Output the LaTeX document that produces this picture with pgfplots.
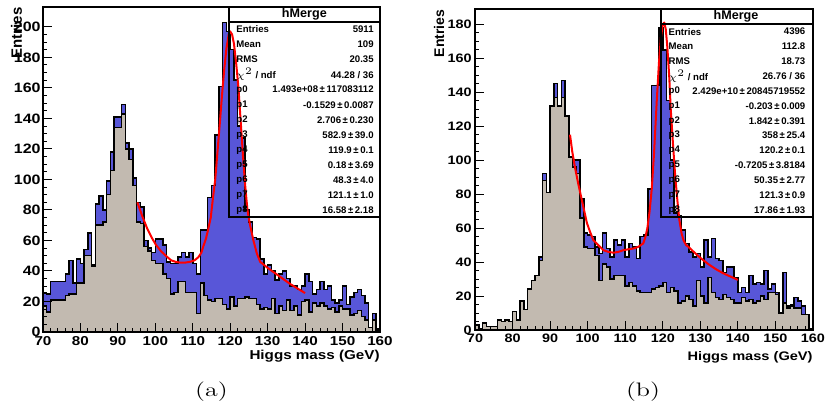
\documentclass[border=0pt]{standalone}
\usepackage{pgfplots}
\pgfplotsset{compat=1.18}
\usepackage{fontspec}
\newfontfamily\hv{Liberation Sans}
\definecolor{hblue}{RGB}{88,86,216}
\definecolor{htan}{RGB}{194,186,176}
\newcommand{\tl}[1]{\scalebox{1}[0.85]{\hv\bfseries #1}}
\newcommand{\sq}[1]{\scalebox{1}[0.85]{#1}}
\newcommand{\PM}{\,±\,}

\pgfplotstableread{
x blue tan
70 26 17
71 25 13
72 33 21
73 33 21
74 33 21
75 33 21
76 38 24
77 47 25
78 32 25
79 48 32
80 45 32
81 54 50
82 65 50
83 44 43
84 84 70
85 89 70
86 80 72
87 99 90
88 118 106
89 141 134
90 141 134
91 149 143
92 124 120
93 120 113
94 101 96
95 85 72
96 82 71
97 60 56
98 55 53
99 52 47
100 61 45
101 61 45
102 57 38
103 46 35
104 45 25
105 45 26
106 49 33
107 52 33
108 49 26
109 52 26
110 45 26
111 38 12
112 67 32
113 67 24
114 88 21
115 96 20
116 129 22
117 161 22
118 203 18
119 197 15
120 185 23
121 165 17
122 135 22
123 127 22
124 80 23
125 72 22
126 62 22
127 61 18
128 48 15
129 38 16
130 44 15
131 40 22
132 34 12
133 38 17
134 40 14
135 35 21
136 30 14
137 30 17
138 28 11
139 30 20
140 38 21
141 33 13
142 25 19
143 28 17
144 33 19
145 28 17
146 30 15
147 21 16
148 19 13
149 21 17
150 30 15
151 18 15
152 23 11
153 26 12
154 28 14
155 24 10
156 19 8
157 3 3
158 12 8
159 2 1
160 2 1
}\dataA

\pgfplotstableread{
x blue tan
70 3 3
71 1 1
72 4 4
73 2 2
74 2 2
75 2 2
76 6 6
77 5 5
78 6 6
79 5 5
80 11 11
81 6 6
82 17 17
83 12 12
84 24 24
85 29 29
86 32 32
87 43 41
88 92 88
89 81 81
90 132 132
91 145 137
92 132 132
93 147 137
94 126 126
95 102 102
96 100 96
97 100 92
98 77 66
99 57 49
100 56 48
101 55 48
102 49 44
103 45 29
104 57 39
105 48 37
106 43 30
107 53 32
108 50 32
109 53 32
110 43 26
111 51 28
112 49 26
113 42 23
114 55 22
115 56 22
116 83 22
117 144 24
118 144 25
119 178 26
120 165 28
121 135 22
122 100 25
123 69 23
124 67 16
125 59 17
126 51 20
127 46 18
128 43 14
129 45 29
130 37 20
131 53 16
132 43 31
133 54 22
134 42 19
135 41 18
136 34 21
137 37 19
138 37 18
139 31 16
140 22 16
141 25 19
142 22 17
143 32 18
144 27 16
145 28 17
146 27 20
147 35 18
148 24 22
149 27 22
150 22 21
151 10 10
152 34 16
153 14 13
154 15 14
155 19 13
156 17 13
157 14 9
158 9 9
159 1 1
160 1 1
}\dataB

\pgfplotsset{
  hstyle/.style={
    scale only axis, anchor=south west,
    xmin=70, xmax=160, ymin=0,
    xtick={70,80,...,160},
    xticklabels={\tl{70},\tl{80},\tl{90},\tl{100},\tl{110},\tl{120},\tl{130},\tl{140},\tl{150},\tl{160}},
    minor x tick num=4, minor y tick num=3,
    tick align=inside, xtick pos=left, ytick pos=left,
    major tick length=4.5pt, minor tick length=2.2pt,
    tick style={black, line width=0.5pt},
    axis line style={black, line width=0.8pt},
    axis on top,
    xticklabel style={anchor=north, inner sep=0pt, yshift=-1.8pt},
    yticklabel style={anchor=east, inner sep=0pt, xshift=-1pt},
  },
  hist/.style={const plot mark left, draw=black, line width=0.75pt, line join=miter},
}

\begin{document}
\begin{tikzpicture}
\useasboundingbox (0pt,0pt) rectangle (413pt,204pt);

% ---------- panel (a)
\begin{axis}[hstyle, at={(21.5pt,38pt)}, width=168.5pt, height=162.5pt, ymax=213,
  ytick={0,20,...,200},
  yticklabels={\tl{0},\tl{20},\tl{40},\tl{60},\tl{80},\tl{100},\tl{120},\tl{140},\tl{160},\tl{180},\tl{200}},
  xticklabel style={font=\fontsize{7.6}{7.6}\selectfont},
  yticklabel style={font=\fontsize{8}{8}\selectfont}]
\addplot[hist, fill=hblue] table[x=x,y=blue]{\dataA} \closedcycle;
\addplot[hist, fill=htan] table[x=x,y=tan]{\dataA} \closedcycle;
\addplot[red, line width=1pt, line join=round] coordinates {
(95.2,85) (96.5,76) (97.8,68) (99,62) (100.2,57) (101.5,53) (102.8,50) (104.2,47)
(105.4,46) (106.6,45.5) (108,45.5) (109.3,46) (110.5,47) (111.5,49) (112.3,52)
(112.8,56) (113.5,61) (114.1,67) (114.8,75) (115.4,88) (116,100) (116.6,118)
(117.2,136) (117.8,155) (118.4,172) (119,186) (119.6,195) (120,197) (120.5,195)
(121,189) (121.6,176) (122.2,160) (122.8,138) (123.4,116) (124,96) (124.6,80)
(125.3,70) (126.2,60) (127.1,51.6) (128,46) (130,42) (132,38.5) (134,35)
(136,31.5) (138,28.5) (140,25.5)};
\end{axis}

% ---------- panel (b)
\begin{axis}[hstyle, at={(237.5pt,39pt)}, width=169pt, height=160.5pt, ymax=189,
  ytick={0,20,...,180},
  yticklabels={\tl{0},\tl{20},\tl{40},\tl{60},\tl{80},\tl{100},\tl{120},\tl{140},\tl{160},\tl{180}},
  xticklabel style={font=\fontsize{7.2}{7.2}\selectfont},
  yticklabel style={font=\fontsize{7.2}{7.2}\selectfont, xshift=-0.5pt}]
\addplot[hist, fill=hblue] table[x=x,y=blue]{\dataB} \closedcycle;
\addplot[hist, fill=htan] table[x=x,y=tan]{\dataB} \closedcycle;
\addplot[red, line width=1pt, line join=round] coordinates {
(95.3,115) (95.9,105) (96.6,96) (97.5,86) (98.4,77) (99.1,70) (99.8,63) (100.6,58)
(101.5,53) (102.8,50) (104.2,47) (105.5,46) (106.9,45.5) (108.2,46) (109.5,47)
(110.8,47.5) (112.2,48) (113.5,49) (114.8,51) (115.4,55) (115.9,60) (116.5,70)
(117.1,84) (117.7,105) (118.4,135) (119,158) (119.5,172) (120,180) (120.4,181)
(120.8,177) (121.2,167) (121.7,150) (122.1,131) (122.7,110) (123.3,91) (123.9,76)
(124.4,65) (125,57) (125.5,53) (126.2,50) (126.8,49) (128,46.5) (130,42.5)
(132,39) (134,36) (136,33.5) (138,31.5) (140,29.5)};
\end{axis}

% ---------- axis titles
\node[rotate=90, anchor=east, inner sep=0pt, font=\hv\bfseries\fontsize{7.5}{7.5}\selectfont] at (8.25pt,200.5pt) {Entries};
\node[rotate=90, anchor=east, inner sep=0pt, font=\hv\bfseries\fontsize{7}{7}\selectfont] at (219.5pt,199.3pt) {Entries};
\node[anchor=east, inner sep=0pt, font=\hv\bfseries\fontsize{7.6}{7.6}\selectfont] at (190pt,26pt) {\sq{Higgs mass (GeV)}};
\node[anchor=east, inner sep=0pt, font=\hv\bfseries\fontsize{7.3}{7.3}\selectfont] at (406.5pt,25.5pt) {\sq{Higgs mass (GeV)}};
\node[inner sep=0pt, font=\fontsize{13}{13}\selectfont] at (105.75pt,8pt) {\scalebox{1}[0.75]{(a)}};
\node[inner sep=0pt, font=\fontsize{13}{13}\selectfont] at (321.5pt,8pt) {\scalebox{1}[0.75]{(b)}};

% ---------- stats box (a)
\draw[line width=1pt] (114.35pt,95.35pt) rectangle (190pt,200.65pt);
\draw[line width=1pt] (114.35pt,193.15pt) -- (190pt,193.15pt);
\node[inner sep=0pt, font=\hv\bfseries\fontsize{6.3}{6.3}\selectfont] at (152.2pt,197pt) {hMerge};
\begin{scope}[every node/.style={inner sep=0pt, font=\hv\bfseries\fontsize{4.8}{4.8}\selectfont}]
\node[anchor=west] at (118pt,189.25pt) {Entries}; \node[anchor=east] at (187pt,189.25pt) {5911};
\node[anchor=west] at (118pt,181.73pt) {Mean};    \node[anchor=east] at (187pt,181.73pt) {109};
\node[anchor=west] at (118pt,174.2pt) {RMS};      \node[anchor=east] at (187pt,174.2pt) {20.35};
\node[anchor=west] at (118pt,166.68pt) {$\chi^{2}$ / ndf}; \node[anchor=east] at (187pt,166.68pt) {44.28 / 36};
\node[anchor=west] at (118pt,159.15pt) {p0}; \node[anchor=east] at (187pt,159.15pt) {1.493e+08\PM117083112};
\node[anchor=west] at (118pt,151.63pt) {p1}; \node[anchor=east] at (187pt,151.63pt) {-0.1529\PM0.0087};
\node[anchor=west] at (118pt,144.1pt) {p2}; \node[anchor=east] at (187pt,144.1pt) {2.706\PM0.230};
\node[anchor=west] at (118pt,136.58pt) {p3}; \node[anchor=east] at (187pt,136.58pt) {582.9\PM39.0};
\node[anchor=west] at (118pt,129.05pt) {p4}; \node[anchor=east] at (187pt,129.05pt) {119.9\PM0.1};
\node[anchor=west] at (118pt,121.53pt) {p5}; \node[anchor=east] at (187pt,121.53pt) {0.18\PM3.69};
\node[anchor=west] at (118pt,114pt) {p6}; \node[anchor=east] at (187pt,114pt) {48.3\PM4.0};
\node[anchor=west] at (118pt,106.48pt) {p7}; \node[anchor=east] at (187pt,106.48pt) {121.1\PM1.0};
\node[anchor=west] at (118pt,98.95pt) {p8}; \node[anchor=east] at (187pt,98.95pt) {16.58\PM2.18};
\end{scope}

% ---------- stats box (b)
\draw[line width=1pt] (330.35pt,95.65pt) rectangle (406.5pt,199.5pt);
\draw[line width=1pt] (330.35pt,192pt) -- (406.5pt,192pt);
\node[inner sep=0pt, font=\hv\bfseries\fontsize{6.3}{6.3}\selectfont] at (368pt,196pt) {hMerge};
\begin{scope}[every node/.style={inner sep=0pt, font=\hv\bfseries\fontsize{4.8}{4.8}\selectfont}]
\node[anchor=west] at (334.15pt,188.15pt) {Entries}; \node[anchor=east] at (402.85pt,188.15pt) {4396};
\node[anchor=west] at (334.15pt,180.73pt) {Mean};    \node[anchor=east] at (402.85pt,180.73pt) {112.8};
\node[anchor=west] at (334.15pt,173.3pt) {RMS};      \node[anchor=east] at (402.85pt,173.3pt) {18.73};
\node[anchor=west] at (334.15pt,165.88pt) {$\chi^{2}$ / ndf}; \node[anchor=east] at (402.85pt,165.88pt) {26.76 / 36};
\node[anchor=west] at (334.15pt,158.45pt) {p0}; \node[anchor=east] at (402.85pt,158.45pt) {2.429e+10\PM20845719552};
\node[anchor=west] at (334.15pt,151.03pt) {p1}; \node[anchor=east] at (402.85pt,151.03pt) {-0.203\PM0.009};
\node[anchor=west] at (334.15pt,143.6pt) {p2}; \node[anchor=east] at (402.85pt,143.6pt) {1.842\PM0.391};
\node[anchor=west] at (334.15pt,136.18pt) {p3}; \node[anchor=east] at (402.85pt,136.18pt) {358\PM25.4};
\node[anchor=west] at (334.15pt,128.75pt) {p4}; \node[anchor=east] at (402.85pt,128.75pt) {120.2\PM0.1};
\node[anchor=west] at (334.15pt,121.33pt) {p5}; \node[anchor=east] at (402.85pt,121.33pt) {-0.7205\PM3.8184};
\node[anchor=west] at (334.15pt,113.9pt) {p6}; \node[anchor=east] at (402.85pt,113.9pt) {50.35\PM2.77};
\node[anchor=west] at (334.15pt,106.48pt) {p7}; \node[anchor=east] at (402.85pt,106.48pt) {121.3\PM0.9};
\node[anchor=west] at (334.15pt,99.05pt) {p8}; \node[anchor=east] at (402.85pt,99.05pt) {17.86\PM1.93};
\end{scope}
\end{tikzpicture}
\end{document}
